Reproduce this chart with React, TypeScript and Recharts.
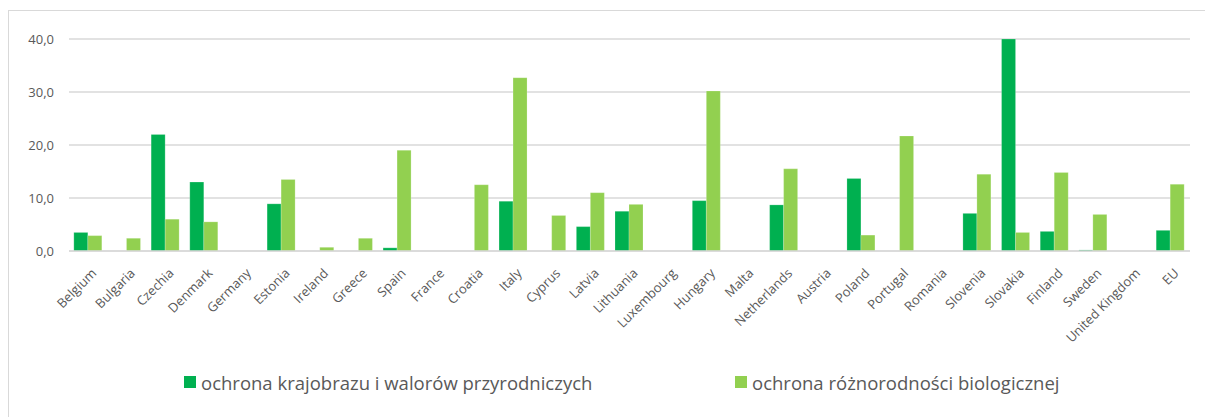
import React from 'react';
import { BarChart, Bar, XAxis, YAxis, CartesianGrid, Legend } from 'recharts';

const countries = [
  'Belgium', 'Bulgaria', 'Czechia', 'Denmark', 'Germany', 'Estonia', 'Ireland', 'Greece', 'Spain', 'France',
  'Croatia', 'Italy', 'Cyprus', 'Latvia', 'Lithuania', 'Luxembourg', 'Hungary', 'Malta', 'Netherlands', 'Austria',
  'Poland', 'Portugal', 'Romania', 'Slovenia', 'Slovakia', 'Finland', 'Sweden', 'United Kingdom', 'EU',
];

const landscape = [
  3.5, 0, 22.0, 13.0, 0, 8.9, 0, 0, 0.6, 0,
  0, 9.4, 0, 4.6, 7.5, 0, 9.5, 0, 8.7, 0,
  13.7, 0, 0, 7.1, 40.0, 3.7, 0.2, 0, 3.9,
];

const biodiversity = [
  2.9, 2.4, 6.0, 5.5, 0, 13.5, 0.7, 2.4, 19.0, 0,
  12.5, 32.7, 6.7, 11.0, 8.8, 0, 30.2, 0, 15.5, 0,
  3.0, 21.7, 0, 14.5, 3.5, 14.8, 6.9, 0, 12.6,
];

const yTicks = [0, 10, 20, 30, 40];

const seriesNames = ['ochrona krajobrazu i walorów przyrodniczych', 'ochrona różnorodności biologicznej'];
const seriesColors = ['#00B050', '#92D050'];

const data = countries.map((c, i) => ({ name: c, a: landscape[i], b: biodiversity[i] }));

const FONT = '"Open Sans", sans-serif';
const TEXT = '#595959';

const XTick = (props: any) => {
  const { x, y, payload } = props;
  const ax = Number(x) + 9;
  const ay = Number(y) + 15;
  return (
    <text
      x={ax}
      y={ay}
      transform={`rotate(-45, ${ax}, ${ay})`}
      textAnchor="end"
      fill={TEXT}
      fontSize={13}
      fontFamily={FONT}
    >
      {payload.value}
    </text>
  );
};

const LegendContent = () => (
  <div style={{ position: 'relative', height: 30, width: 1205, fontFamily: FONT, fontSize: 18.5, color: TEXT }}>
    {seriesNames.map((n, i) => (
      <div
        key={n}
        style={{ position: 'absolute', left: i === 0 ? 184 : 735, top: 0, height: 30, display: 'flex', alignItems: 'center', whiteSpace: 'nowrap' }}
      >
        <span style={{ display: 'inline-block', width: 12, height: 12, background: seriesColors[i], marginRight: 5 }} />
        <span>{n}</span>
      </div>
    ))}
  </div>
);

export default function App() {
  return (
    <div style={{ position: 'absolute', left: 0, top: 0, width: 1205, height: 417, overflow: 'hidden', background: '#fff' }}>
      <div style={{ position: 'absolute', left: 8, top: 10, width: 1210, height: 430, border: '1px solid #d9d9d9' }} />
      <BarChart
        width={1205}
        height={417}
        data={data}
        margin={{ top: 39, right: 15, left: 0, bottom: 20 }}
        barCategoryGap="12.5%"
        barGap={0}
      >
        <CartesianGrid vertical={false} stroke="#d9d9d9" strokeWidth={1.5} />
        <XAxis
          dataKey="name"
          interval={0}
          height={116}
          tick={XTick}
          tickLine={false}
          axisLine={{ stroke: '#d9d9d9', strokeWidth: 1.5 }}
        />
        <YAxis
          domain={[0, 40]}
          ticks={yTicks}
          width={69}
          tickLine={false}
          axisLine={false}
          tickSize={0}
          tickMargin={15}
          tick={{ fill: TEXT, fontSize: 13, fontFamily: FONT }}
          tickFormatter={(v: number) => v.toFixed(1).replace('.', ',')}
        />
        <Legend verticalAlign="bottom" content={<LegendContent />} />
        <Bar dataKey="a" name={seriesNames[0]} fill={seriesColors[0]} stroke="#ffffff" strokeOpacity={0.4} strokeWidth={0.5} isAnimationActive={false} />
        <Bar dataKey="b" name={seriesNames[1]} fill={seriesColors[1]} stroke="#ffffff" strokeOpacity={0.4} strokeWidth={0.5} isAnimationActive={false} />
      </BarChart>
    </div>
  );
}
